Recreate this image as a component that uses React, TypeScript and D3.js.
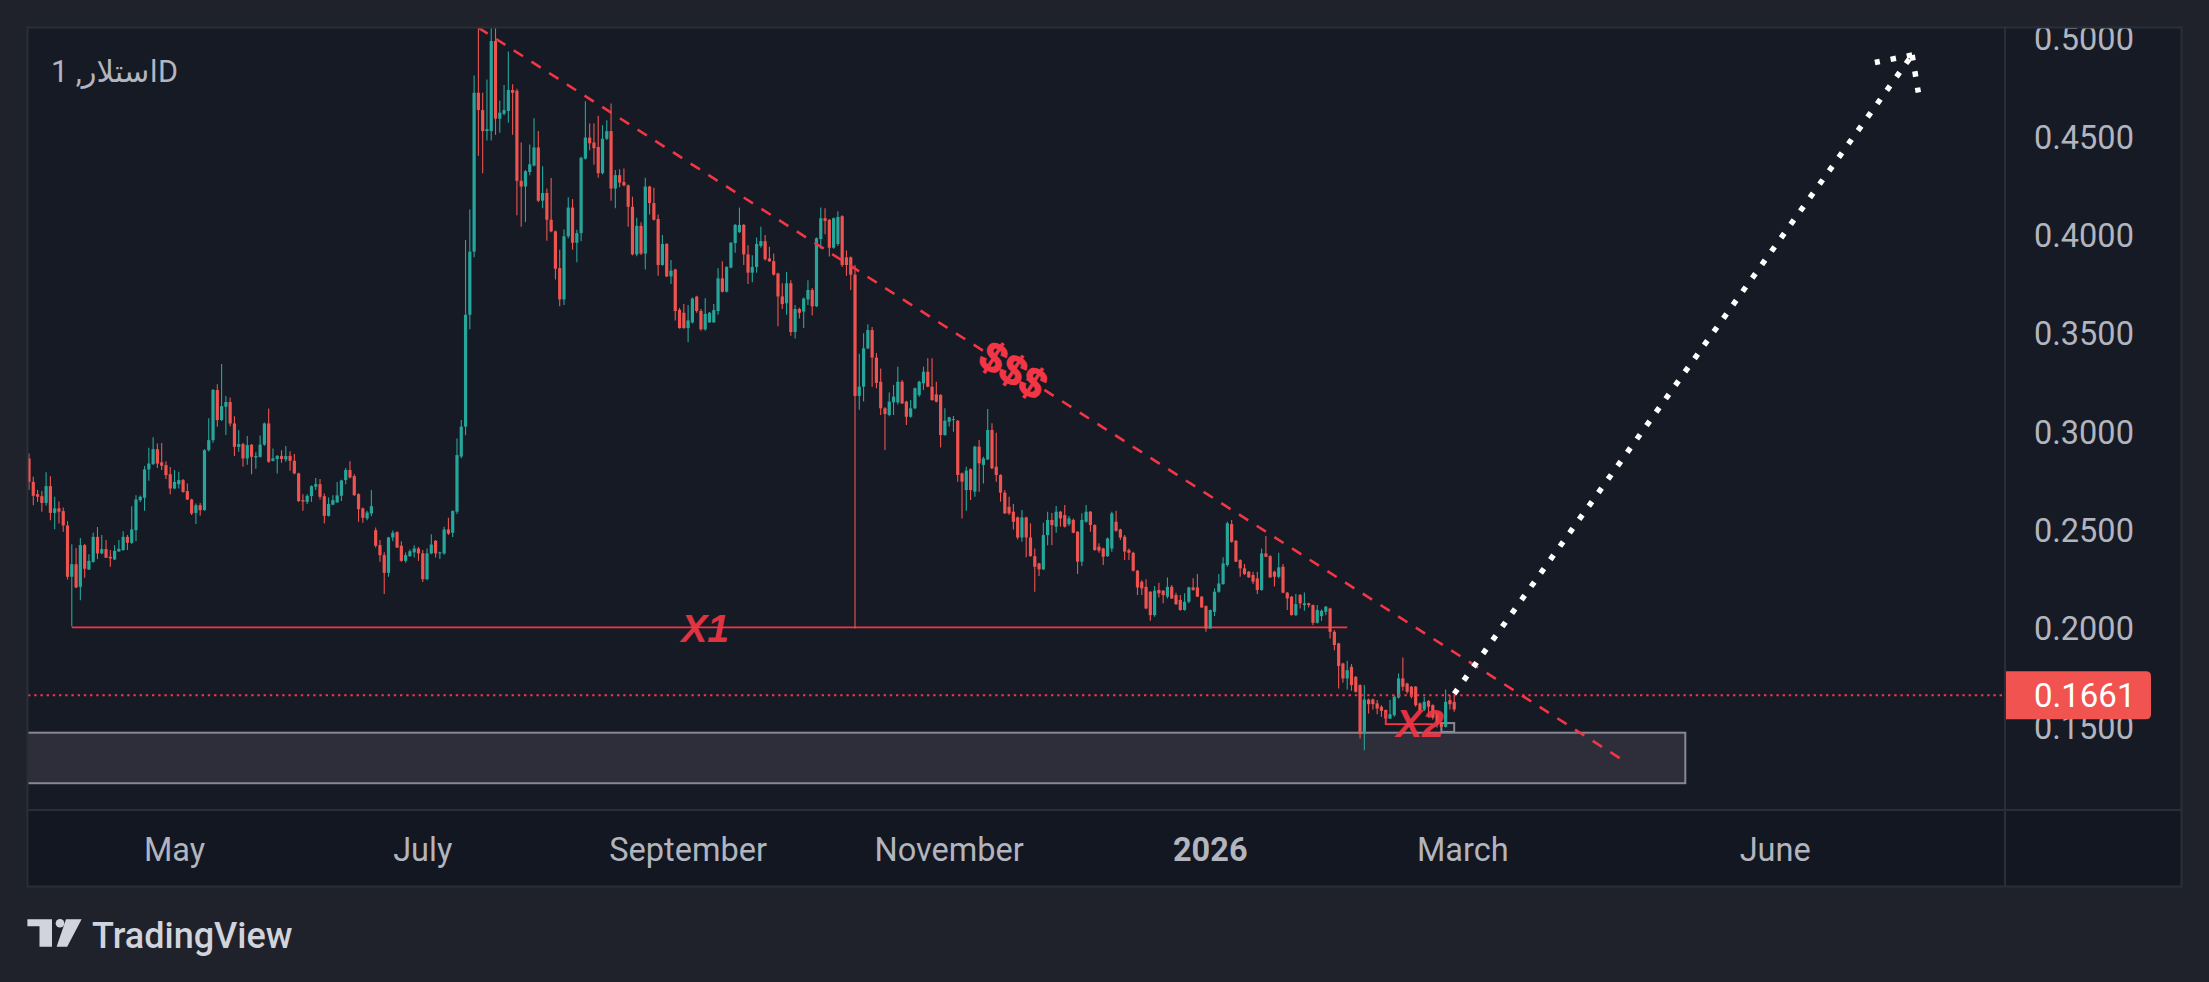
import * as d3 from 'd3';

type Candle = [number, number, number, number]; // open, high, low, close

// daily candles, 31 Mar - 9 Jul 2025
const springStart = '2025-03-31';
const springCandles: Candle[] = [
  [0.2865, 0.2890, 0.2704, 0.2746], [0.2746, 0.2772, 0.2627, 0.2675], [0.2683, 0.2704, 0.2644, 0.2670], [0.2673, 0.2699, 0.2594, 0.2639],
  [0.2639, 0.2795, 0.2624, 0.2724], [0.2724, 0.2775, 0.2551, 0.2588], [0.2588, 0.2670, 0.2505, 0.2611], [0.2611, 0.2646, 0.2534, 0.2594],
  [0.2597, 0.2616, 0.2492, 0.2524], [0.2524, 0.2546, 0.2249, 0.2263], [0.2263, 0.2429, 0.2010, 0.2327], [0.2327, 0.2409, 0.2205, 0.2209],
  [0.2212, 0.2460, 0.2144, 0.2424], [0.2424, 0.2430, 0.2258, 0.2304], [0.2300, 0.2378, 0.2297, 0.2344], [0.2339, 0.2487, 0.2334, 0.2466],
  [0.2466, 0.2516, 0.2353, 0.2382], [0.2382, 0.2475, 0.2378, 0.2404], [0.2404, 0.2450, 0.2358, 0.2360], [0.2365, 0.2399, 0.2314, 0.2356],
  [0.2351, 0.2424, 0.2348, 0.2395], [0.2392, 0.2450, 0.2390, 0.2405], [0.2399, 0.2495, 0.2396, 0.2466], [0.2466, 0.2475, 0.2399, 0.2436],
  [0.2436, 0.2622, 0.2430, 0.2504], [0.2500, 0.2678, 0.2444, 0.2656], [0.2653, 0.2676, 0.2644, 0.2670], [0.2665, 0.2826, 0.2599, 0.2809],
  [0.2809, 0.2919, 0.2751, 0.2839], [0.2836, 0.2973, 0.2832, 0.2912], [0.2912, 0.2941, 0.2817, 0.2839], [0.2845, 0.2943, 0.2806, 0.2828],
  [0.2831, 0.2851, 0.2760, 0.2780], [0.2785, 0.2821, 0.2683, 0.2712], [0.2712, 0.2806, 0.2709, 0.2746], [0.2734, 0.2797, 0.2712, 0.2755],
  [0.2755, 0.2760, 0.2690, 0.2695], [0.2699, 0.2738, 0.2653, 0.2656], [0.2656, 0.2660, 0.2577, 0.2585], [0.2588, 0.2636, 0.2532, 0.2627],
  [0.2627, 0.2638, 0.2573, 0.2602], [0.2602, 0.2912, 0.2599, 0.2907], [0.2907, 0.3070, 0.2900, 0.2958], [0.2958, 0.3218, 0.2945, 0.3213],
  [0.3213, 0.3243, 0.3026, 0.3060], [0.3060, 0.3345, 0.3055, 0.3131], [0.3128, 0.3182, 0.2984, 0.3152], [0.3152, 0.3175, 0.3029, 0.3043],
  [0.3043, 0.3080, 0.2877, 0.2924], [0.2924, 0.3009, 0.2899, 0.2938], [0.2938, 0.2945, 0.2823, 0.2865], [0.2865, 0.2979, 0.2833, 0.2933],
  [0.2935, 0.2938, 0.2784, 0.2873], [0.2870, 0.2897, 0.2812, 0.2877], [0.2873, 0.2982, 0.2870, 0.2935], [0.2935, 0.3048, 0.2930, 0.3043],
  [0.3043, 0.3119, 0.2843, 0.2848], [0.2853, 0.2916, 0.2850, 0.2865], [0.2862, 0.2882, 0.2789, 0.2878], [0.2878, 0.2907, 0.2843, 0.2862],
  [0.2860, 0.2928, 0.2848, 0.2877], [0.2878, 0.2902, 0.2802, 0.2853], [0.2853, 0.2887, 0.2785, 0.2789], [0.2789, 0.2792, 0.2644, 0.2648],
  [0.2653, 0.2683, 0.2599, 0.2646], [0.2644, 0.2683, 0.2633, 0.2675], [0.2673, 0.2728, 0.2644, 0.2724], [0.2721, 0.2765, 0.2704, 0.2734],
  [0.2734, 0.2760, 0.2656, 0.2670], [0.2673, 0.2687, 0.2534, 0.2573], [0.2573, 0.2666, 0.2570, 0.2633], [0.2630, 0.2678, 0.2627, 0.2653],
  [0.2641, 0.2745, 0.2639, 0.2677], [0.2675, 0.2757, 0.2648, 0.2753], [0.2755, 0.2817, 0.2734, 0.2806], [0.2806, 0.2851, 0.2763, 0.2768],
  [0.2775, 0.2785, 0.2675, 0.2678], [0.2683, 0.2688, 0.2543, 0.2607], [0.2611, 0.2615, 0.2538, 0.2563], [0.2560, 0.2599, 0.2551, 0.2590],
  [0.2585, 0.2704, 0.2571, 0.2622], [0.2500, 0.2514, 0.2412, 0.2421], [0.2424, 0.2450, 0.2339, 0.2373], [0.2373, 0.2388, 0.2175, 0.2283],
  [0.2283, 0.2466, 0.2263, 0.2463], [0.2463, 0.2499, 0.2444, 0.2487], [0.2490, 0.2495, 0.2409, 0.2412], [0.2421, 0.2444, 0.2340, 0.2344],
  [0.2344, 0.2387, 0.2334, 0.2373], [0.2368, 0.2402, 0.2365, 0.2393], [0.2387, 0.2424, 0.2361, 0.2407], [0.2407, 0.2415, 0.2344, 0.2382],
  [0.2382, 0.2399, 0.2237, 0.2251], [0.2251, 0.2407, 0.2245, 0.2382], [0.2382, 0.2480, 0.2378, 0.2427], [0.2446, 0.2450, 0.2361, 0.2382],
  [0.2382, 0.2390, 0.2354, 0.2387], [0.2382, 0.2517, 0.2375, 0.2504], [0.2504, 0.2563, 0.2475, 0.2483], [0.2487, 0.2602, 0.2466, 0.2597],
  [0.2594, 0.2967, 0.2582, 0.2882],
];

// 10 Jul - 15 Oct 2025
const summerStart = '2025-07-10';
const summerCandles: Candle[] = [
  [0.2875, 0.3060, 0.2866, 0.3027], [0.3027, 0.3976, 0.2983, 0.3596], [0.3596, 0.4131, 0.3522, 0.3917], [0.3917, 0.4813, 0.3888, 0.4725],
  [0.4725, 0.5056, 0.4404, 0.4637], [0.4637, 0.4725, 0.4316, 0.4530], [0.4530, 0.4793, 0.4482, 0.4540], [0.4530, 0.5056, 0.4482, 0.4988],
  [0.4988, 0.5056, 0.4511, 0.4593], [0.4593, 0.4686, 0.4521, 0.4624], [0.4618, 0.4764, 0.4610, 0.4637], [0.4632, 0.4935, 0.4573, 0.4739],
  [0.4739, 0.4768, 0.4511, 0.4725], [0.4735, 0.4745, 0.4102, 0.4277], [0.4277, 0.4472, 0.4044, 0.4248], [0.4248, 0.4332, 0.4067, 0.4326],
  [0.4322, 0.4462, 0.4306, 0.4361], [0.4355, 0.4595, 0.4350, 0.4447], [0.4447, 0.4530, 0.4170, 0.4176], [0.4176, 0.4351, 0.4137, 0.4215],
  [0.4215, 0.4238, 0.3972, 0.4079], [0.4079, 0.4291, 0.4015, 0.4020], [0.4020, 0.4025, 0.3775, 0.3830], [0.3833, 0.3927, 0.3639, 0.3674],
  [0.3674, 0.4030, 0.3645, 0.3995], [0.3995, 0.4194, 0.3985, 0.4141], [0.4141, 0.4184, 0.3927, 0.3962], [0.3962, 0.4028, 0.3863, 0.4011],
  [0.4011, 0.4399, 0.3970, 0.4394], [0.4390, 0.4682, 0.4385, 0.4497], [0.4497, 0.4569, 0.4433, 0.4468], [0.4472, 0.4569, 0.4359, 0.4443],
  [0.4449, 0.4608, 0.4293, 0.4316], [0.4316, 0.4560, 0.4310, 0.4491], [0.4491, 0.4585, 0.4485, 0.4530], [0.4530, 0.4671, 0.4176, 0.4238],
  [0.4238, 0.4332, 0.4137, 0.4306], [0.4306, 0.4336, 0.4244, 0.4268], [0.4271, 0.4340, 0.4250, 0.4254], [0.4254, 0.4258, 0.4044, 0.4145],
  [0.4145, 0.4196, 0.3898, 0.3903], [0.3903, 0.4089, 0.3894, 0.4048], [0.4048, 0.4067, 0.3900, 0.3907], [0.3907, 0.4293, 0.3826, 0.4248],
  [0.4248, 0.4252, 0.4106, 0.4164], [0.4164, 0.4242, 0.4075, 0.4079], [0.4083, 0.4106, 0.3794, 0.3849], [0.3849, 0.4001, 0.3845, 0.3956],
  [0.3956, 0.3960, 0.3787, 0.3791], [0.3791, 0.3874, 0.3752, 0.3820], [0.3826, 0.3830, 0.3567, 0.3615], [0.3621, 0.3631, 0.3525, 0.3528],
  [0.3606, 0.3650, 0.3525, 0.3528], [0.3528, 0.3645, 0.3456, 0.3567], [0.3557, 0.3684, 0.3551, 0.3678], [0.3688, 0.3693, 0.3606, 0.3615],
  [0.3615, 0.3625, 0.3514, 0.3522], [0.3522, 0.3680, 0.3514, 0.3600], [0.3557, 0.3610, 0.3555, 0.3606], [0.3557, 0.3650, 0.3555, 0.3619],
  [0.3615, 0.3833, 0.3596, 0.3781], [0.3781, 0.3868, 0.3709, 0.3713], [0.3713, 0.3843, 0.3709, 0.3839], [0.3836, 0.3966, 0.3833, 0.3962],
  [0.3960, 0.4058, 0.3911, 0.4053], [0.4016, 0.4141, 0.4012, 0.4053], [0.4053, 0.4058, 0.3849, 0.3903], [0.3903, 0.3950, 0.3752, 0.3810],
  [0.3810, 0.3898, 0.3761, 0.3839], [0.3839, 0.3989, 0.3810, 0.3956], [0.3946, 0.4044, 0.3937, 0.3970], [0.3970, 0.4001, 0.3872, 0.3878],
  [0.3882, 0.3942, 0.3864, 0.3868], [0.3868, 0.3907, 0.3796, 0.3800], [0.3806, 0.3810, 0.3537, 0.3689], [0.3689, 0.3756, 0.3625, 0.3650],
  [0.3654, 0.3814, 0.3596, 0.3756], [0.3756, 0.3771, 0.3489, 0.3508], [0.3508, 0.3645, 0.3475, 0.3625], [0.3625, 0.3631, 0.3577, 0.3606],
  [0.3612, 0.3684, 0.3528, 0.3678], [0.3674, 0.3771, 0.3645, 0.3722], [0.3722, 0.3732, 0.3592, 0.3639], [0.3639, 0.3989, 0.3635, 0.3985],
  [0.3981, 0.4141, 0.3931, 0.4087], [0.4087, 0.4137, 0.4005, 0.4073], [0.4079, 0.4083, 0.3892, 0.3937], [0.3937, 0.4091, 0.3931, 0.4087],
  [0.3956, 0.4122, 0.3946, 0.4093], [0.4097, 0.4102, 0.3839, 0.3849], [0.3888, 0.3923, 0.3794, 0.3849], [0.3888, 0.3892, 0.3722, 0.3800],
  [0.3800, 0.3849, 0.2000, 0.3183], [0.3183, 0.3397, 0.3113, 0.3230], [0.3230, 0.3502, 0.3154, 0.3425], [0.3425, 0.3547, 0.3420, 0.3518],
  [0.3518, 0.3533, 0.3230, 0.3378], [0.3378, 0.3401, 0.3222, 0.3249],
];

// 16 Oct 2025 - 21 Jan 2026
const autumnStart = '2025-10-16';
const autumnCandles: Candle[] = [
  [0.3255, 0.3323, 0.3086, 0.3120], [0.3120, 0.3125, 0.2908, 0.3091], [0.3086, 0.3200, 0.3080, 0.3154], [0.3150, 0.3239, 0.3086, 0.3179],
  [0.3150, 0.3332, 0.3140, 0.3255], [0.3255, 0.3264, 0.3142, 0.3145], [0.3154, 0.3158, 0.3035, 0.3077], [0.3077, 0.3162, 0.3072, 0.3120],
  [0.3120, 0.3226, 0.3115, 0.3222], [0.3188, 0.3260, 0.3179, 0.3255], [0.3247, 0.3332, 0.3213, 0.3306], [0.3306, 0.3374, 0.3227, 0.3230],
  [0.3230, 0.3374, 0.3158, 0.3162], [0.3191, 0.3255, 0.3150, 0.3154], [0.3188, 0.3192, 0.2921, 0.2984], [0.2984, 0.3120, 0.2980, 0.3057],
  [0.3052, 0.3077, 0.3027, 0.3074], [0.3060, 0.3081, 0.3001, 0.3065], [0.3057, 0.3061, 0.2747, 0.2781], [0.2789, 0.2793, 0.2560, 0.2747],
  [0.2704, 0.2823, 0.2599, 0.2803], [0.2810, 0.2815, 0.2653, 0.2704], [0.2696, 0.2930, 0.2670, 0.2925], [0.2925, 0.2959, 0.2696, 0.2840],
  [0.2832, 0.2874, 0.2738, 0.2865], [0.2860, 0.3116, 0.2857, 0.3010], [0.3010, 0.3044, 0.2810, 0.2815], [0.2823, 0.2996, 0.2747, 0.2781],
  [0.2781, 0.2785, 0.2645, 0.2691], [0.2691, 0.2704, 0.2582, 0.2586], [0.2619, 0.2670, 0.2577, 0.2586], [0.2594, 0.2633, 0.2504, 0.2543],
  [0.2565, 0.2570, 0.2453, 0.2463], [0.2463, 0.2603, 0.2441, 0.2565], [0.2565, 0.2569, 0.2362, 0.2463], [0.2463, 0.2535, 0.2365, 0.2368],
  [0.2368, 0.2407, 0.2187, 0.2314], [0.2331, 0.2335, 0.2267, 0.2301], [0.2301, 0.2538, 0.2297, 0.2475], [0.2475, 0.2594, 0.2424, 0.2552],
  [0.2552, 0.2587, 0.2424, 0.2526], [0.2518, 0.2623, 0.2487, 0.2594], [0.2594, 0.2598, 0.2518, 0.2560], [0.2577, 0.2628, 0.2514, 0.2518],
  [0.2531, 0.2572, 0.2521, 0.2560], [0.2552, 0.2560, 0.2484, 0.2487], [0.2492, 0.2496, 0.2277, 0.2340], [0.2340, 0.2586, 0.2318, 0.2552],
  [0.2543, 0.2628, 0.2538, 0.2594], [0.2594, 0.2598, 0.2492, 0.2526], [0.2526, 0.2530, 0.2396, 0.2399], [0.2416, 0.2433, 0.2385, 0.2396],
  [0.2407, 0.2411, 0.2323, 0.2365], [0.2368, 0.2463, 0.2364, 0.2458], [0.2407, 0.2594, 0.2390, 0.2586], [0.2543, 0.2599, 0.2492, 0.2497],
  [0.2504, 0.2508, 0.2450, 0.2463], [0.2467, 0.2475, 0.2348, 0.2391], [0.2399, 0.2407, 0.2348, 0.2385], [0.2385, 0.2390, 0.2290, 0.2294],
  [0.2294, 0.2298, 0.2170, 0.2209], [0.2238, 0.2246, 0.2170, 0.2204], [0.2212, 0.2250, 0.2098, 0.2102], [0.2187, 0.2190, 0.2039, 0.2068],
  [0.2068, 0.2216, 0.2060, 0.2192], [0.2196, 0.2233, 0.2158, 0.2179], [0.2192, 0.2196, 0.2128, 0.2170], [0.2162, 0.2260, 0.2153, 0.2212],
  [0.2212, 0.2221, 0.2150, 0.2153], [0.2170, 0.2182, 0.2119, 0.2124], [0.2145, 0.2170, 0.2090, 0.2094], [0.2094, 0.2179, 0.2090, 0.2136],
  [0.2136, 0.2212, 0.2128, 0.2209], [0.2209, 0.2255, 0.2192, 0.2196], [0.2209, 0.2277, 0.2160, 0.2162], [0.2162, 0.2165, 0.2105, 0.2107],
  [0.2114, 0.2117, 0.1983, 0.2000], [0.2000, 0.2097, 0.1997, 0.2094], [0.2085, 0.2204, 0.2063, 0.2187], [0.2187, 0.2277, 0.2182, 0.2229],
  [0.2226, 0.2362, 0.2222, 0.2331], [0.2323, 0.2543, 0.2314, 0.2535], [0.2531, 0.2552, 0.2436, 0.2441], [0.2446, 0.2450, 0.2338, 0.2340],
  [0.2348, 0.2352, 0.2263, 0.2306], [0.2306, 0.2328, 0.2272, 0.2277], [0.2289, 0.2292, 0.2258, 0.2260], [0.2272, 0.2289, 0.2226, 0.2238],
  [0.2255, 0.2289, 0.2175, 0.2196], [0.2196, 0.2407, 0.2192, 0.2382], [0.2382, 0.2470, 0.2362, 0.2365], [0.2368, 0.2372, 0.2258, 0.2260],
  [0.2289, 0.2294, 0.2213, 0.2263], [0.2263, 0.2385, 0.2255, 0.2311], [0.2314, 0.2328, 0.2179, 0.2182], [0.2182, 0.2186, 0.2094, 0.2153],
  [0.2162, 0.2165, 0.2066, 0.2068], [0.2068, 0.2175, 0.2064, 0.2124],
];

// 22 Jan - 27 Feb 2026
const winterStart = '2026-01-22';
const winterCandles: Candle[] = [
  [0.2170, 0.2175, 0.2102, 0.2128], [0.2119, 0.2183, 0.2090, 0.2128], [0.2128, 0.2131, 0.2107, 0.2119], [0.2119, 0.2122, 0.2017, 0.2029],
  [0.2029, 0.2119, 0.2026, 0.2094], [0.2063, 0.2097, 0.2039, 0.2090], [0.2085, 0.2114, 0.2068, 0.2111], [0.2102, 0.2106, 0.1949, 0.1983],
  [0.1983, 0.1992, 0.1890, 0.1916], [0.1924, 0.1927, 0.1695, 0.1809], [0.1822, 0.1826, 0.1724, 0.1746], [0.1746, 0.1836, 0.1690, 0.1788],
  [0.1805, 0.1819, 0.1683, 0.1712], [0.1754, 0.1758, 0.1675, 0.1678], [0.1712, 0.1716, 0.1441, 0.1463], [0.1466, 0.1712, 0.1381, 0.1639],
  [0.1639, 0.1644, 0.1568, 0.1615], [0.1639, 0.1644, 0.1588, 0.1615], [0.1619, 0.1636, 0.1564, 0.1593], [0.1602, 0.1610, 0.1551, 0.1581],
  [0.1585, 0.1588, 0.1514, 0.1542], [0.1542, 0.1636, 0.1540, 0.1564], [0.1559, 0.1661, 0.1551, 0.1653], [0.1649, 0.1771, 0.1644, 0.1746],
  [0.1746, 0.1853, 0.1683, 0.1704], [0.1720, 0.1724, 0.1670, 0.1678], [0.1704, 0.1707, 0.1644, 0.1653], [0.1704, 0.1707, 0.1602, 0.1610],
  [0.1619, 0.1623, 0.1576, 0.1585], [0.1588, 0.1653, 0.1581, 0.1627], [0.1632, 0.1636, 0.1547, 0.1602], [0.1610, 0.1615, 0.1537, 0.1547],
  [0.1571, 0.1575, 0.1497, 0.1517], [0.1520, 0.1525, 0.1492, 0.1500], [0.1500, 0.1690, 0.1496, 0.1627], [0.1636, 0.1661, 0.1588, 0.1615],
  [0.1627, 0.1670, 0.1576, 0.1588],
];

const priceTicks = [0.15, 0.2, 0.25, 0.3, 0.35, 0.4, 0.45, 0.5];
const timeTicks = [
  { label: 'May', date: '2025-05-04', bold: false },
  { label: 'July', date: '2025-07-01', bold: false },
  { label: 'September', date: '2025-09-01', bold: false },
  { label: 'November', date: '2025-11-01', bold: false },
  { label: '2026', date: '2026-01-01', bold: true },
  { label: 'March', date: '2026-03-01', bold: false },
  { label: 'June', date: '2026-05-13', bold: false },
];
const lastPrice = 0.1661;
const title = 'استلار, 1D';

// drawings
const trendLine = [{ date: '2025-07-14', price: 0.5056 }, { date: '2026-04-07', price: 0.1336 }];
const x1Line = { from: '2025-04-10', to: '2026-02-02', price: 0.2006 };
const zone = { from: '2025-03-01', to: '2026-04-22', top: 0.147, bottom: 0.1213 };
const smallBox = { from: '2026-02-24', to: '2026-02-27', top: 0.1519, bottom: 0.1474 };
const x2Bracket = [
  { date: '2026-02-11', price: 0.1575 },
  { date: '2026-02-11', price: 0.1514 },
  { date: '2026-02-22', price: 0.1514 },
];
const arrow = [{ date: '2026-02-27', price: 0.1668 }, { date: '2026-06-14', price: 0.4917 }];
const labels = [
  { text: 'X1', date: '2025-09-05', price: 0.1931 },
  { text: 'X2', date: '2026-02-19', price: 0.1448 },
];
const dollarsAt = '2025-11-16';

const W = 2209;
const H = 982;
const plot = { left: 28, top: 28, right: 2005, bottom: 810 };
const axisRight = 2181;
const timeBottom = 886;
const RED = '#f23645';
const UP = '#26a69a';
const DOWN = '#ef5350';
const TEXT = '#b2b5be';
const BORDER = '#2a2e39';
const FONT = 'Roboto, "DejaVu Sans", sans-serif';

const day = (s: string) => new Date(s + 'T00:00:00Z');

export default function App() {
  const x = d3.scaleUtc().domain([day('2025-03-31'), day('2026-02-27')]).range([29, 1454.2]);
  const y = d3.scaleLinear().domain([0.15, 0.5]).range([726.8, 38.7]);

  const segments = [
    { start: springStart, data: springCandles },
    { start: summerStart, data: summerCandles },
    { start: autumnStart, data: autumnCandles },
    { start: winterStart, data: winterCandles },
  ];
  const candles = segments.flatMap(seg =>
    seg.data.map((c, i) => ({ t: d3.utcDay.offset(day(seg.start), i), o: c[0], h: c[1], l: c[2], c: c[3] }))
  );

  const bodyW = 3.2;

  // trend line geometry
  const tx0 = x(day(trendLine[0].date)), ty0 = y(trendLine[0].price);
  const tx1 = x(day(trendLine[1].date)), ty1 = y(trendLine[1].price);
  const angle = (Math.atan2(ty1 - ty0, tx1 - tx0) * 180) / Math.PI;
  const dollarX = x(day(dollarsAt));
  const dollarY = ty0 + ((dollarX - tx0) * (ty1 - ty0)) / (tx1 - tx0);

  // arrow geometry
  const ax0 = x(day(arrow[0].date)), ay0 = y(arrow[0].price);
  const ax1 = x(day(arrow[1].date)), ay1 = y(arrow[1].price);
  const back = Math.atan2(ay0 - ay1, ax0 - ax1);
  const wing = (da: number) => [ax1 + 38 * Math.cos(back + da), ay1 + 38 * Math.sin(back + da)];
  const w1 = wing((43 * Math.PI) / 180);
  const w2 = wing((-45 * Math.PI) / 180);

  const lp = y(lastPrice);
  const bracketPath = d3.line<{ date: string; price: number }>()
    .x(d => x(day(d.date)))
    .y(d => y(d.price))(x2Bracket) || '';

  return (
    <svg width={W} height={H} style={{ position: 'absolute', left: 0, top: 0, display: 'block' }} fontFamily={FONT}>
      <defs>
        <clipPath id="plotClip">
          <rect x={plot.left} y={plot.top} width={plot.right - plot.left} height={plot.bottom - plot.top} />
        </clipPath>
        <clipPath id="axisClip">
          <rect x={plot.right} y={plot.top} width={axisRight - plot.right} height={plot.bottom - plot.top} />
        </clipPath>
      </defs>
      <rect width={W} height={H} fill="#1f222b" />
      <rect x={plot.left} y={plot.top} width={axisRight - plot.left} height={plot.bottom - plot.top} fill="#161a25" />
      <rect x={plot.left} y={plot.bottom} width={axisRight - plot.left} height={timeBottom - plot.bottom} fill="#131722" />

      <g clipPath="url(#plotClip)">
        {/* support zone */}
        <rect
          x={x(day(zone.from))}
          y={y(zone.top)}
          width={x(day(zone.to)) - x(day(zone.from))}
          height={y(zone.bottom) - y(zone.top)}
          fill="#2d2e3a"
          stroke="#868993"
          strokeWidth={2}
        />
        <rect
          x={x(day(smallBox.from))}
          y={y(smallBox.top)}
          width={x(day(smallBox.to)) - x(day(smallBox.from))}
          height={y(smallBox.bottom) - y(smallBox.top)}
          fill="#1c1f2b"
          stroke="#868993"
          strokeWidth={2}
        />

        {/* X1 level */}
        <line x1={x(day(x1Line.from))} x2={x(day(x1Line.to))} y1={y(x1Line.price)} y2={y(x1Line.price)} stroke={RED} strokeWidth={1.8} />

        {/* candles */}
        {candles.map((d, i) => {
          const col = d.c >= d.o ? UP : DOWN;
          const cx = x(d.t);
          const top = y(Math.max(d.o, d.c));
          const bh = Math.max(1, Math.abs(y(d.o) - y(d.c)));
          return (
            <g key={i}>
              <line x1={cx} x2={cx} y1={y(d.h)} y2={y(d.l)} stroke={col} strokeWidth={1.1} />
              <rect x={cx - bodyW / 2} y={top} width={bodyW} height={bh} fill={col} />
            </g>
          );
        })}

        <path d={bracketPath} fill="none" stroke={RED} strokeWidth={1.8} />

        {/* descending trend line */}
        <line x1={tx0} y1={ty0} x2={tx1} y2={ty1} stroke={RED} strokeWidth={2.6} strokeDasharray="11 10" />
        <text
          transform={`translate(${dollarX},${dollarY}) rotate(${angle})`}
          textAnchor="middle"
          dominantBaseline="central"
          fontSize={42}
          fontWeight="bold"
          fontFamily='"Liberation Sans", Arial, sans-serif'
          fill={RED}
          stroke={RED}
          strokeWidth={1.2}
        >
          $$$
        </text>

        {labels.map(l => (
          <text
            key={l.text}
            x={x(day(l.date))}
            y={y(l.price)}
            textAnchor="middle"
            fontSize={39}
            fontWeight="bold"
            fontStyle="italic"
            fontFamily='"Liberation Sans", Arial, sans-serif'
            fill={RED}
            opacity={0.92}
          >
            {l.text}
          </text>
        ))}

        {/* last price line */}
        <line x1={plot.left} x2={plot.right} y1={lp} y2={lp} stroke={RED} strokeWidth={2} strokeDasharray="2.4 3.8" />

        {/* projected move */}
        <g stroke="#ffffff" strokeWidth={5.5} strokeDasharray="5.5 11" fill="none">
          <line x1={ax0} y1={ay0} x2={ax1} y2={ay1} />
          <line x1={ax1} y1={ay1} x2={w1[0]} y2={w1[1]} />
          <line x1={ax1} y1={ay1} x2={w2[0]} y2={w2[1]} />
        </g>
      </g>

      {/* symbol title */}
      <text x={51} y={82} fontSize={30.5} fill={TEXT}>{title}</text>

      {/* price axis */}
      <g clipPath="url(#axisClip)">
        {priceTicks.map(p => (
          <text key={p} x={2034} y={y(p)} dy="0.36em" fontSize={32.5} fill={TEXT}>
            {p.toFixed(4)}
          </text>
        ))}
        <path
          d={`M${plot.right},${lp - 24} H2146 Q2151,${lp - 24} 2151,${lp - 19} V${lp + 19} Q2151,${lp + 24} 2146,${lp + 24} H${plot.right} Z`}
          fill="#f05350"
        />
        <text x={2034} y={lp} dy="0.36em" fontSize={33} fill="#ffffff">
          {lastPrice.toFixed(4)}
        </text>
      </g>

      {/* time axis */}
      {timeTicks.map(t => (
        <text
          key={t.label}
          x={x(day(t.date))}
          y={861}
          textAnchor="middle"
          fontSize={32.5}
          fontWeight={t.bold ? 'bold' : 'normal'}
          fill={TEXT}
        >
          {t.label}
        </text>
      ))}

      {/* frame */}
      <rect
        x={plot.left - 0.5}
        y={plot.top - 0.5}
        width={axisRight - plot.left + 1}
        height={timeBottom - plot.top + 1}
        fill="none"
        stroke={BORDER}
        strokeWidth={2}
      />
      <line x1={plot.left} x2={axisRight} y1={plot.bottom} y2={plot.bottom} stroke={BORDER} strokeWidth={2} />
      <line x1={plot.right} x2={plot.right} y1={plot.top} y2={timeBottom} stroke={BORDER} strokeWidth={2} />

      {/* footer logo */}
      <g fill="#d1d4dc">
        <path d="M27.4,919.3 H52 V946.7 H39.5 V926.2 H27.4 Z" />
        <circle cx={60} cy={923.3} r={4.3} />
        <path d="M66,919.3 H81.6 L67.2,946.7 H56.6 Z" />
        <text x={92} y={948} fontSize={36} fontWeight={500}>TradingView</text>
      </g>
    </svg>
  );
}
